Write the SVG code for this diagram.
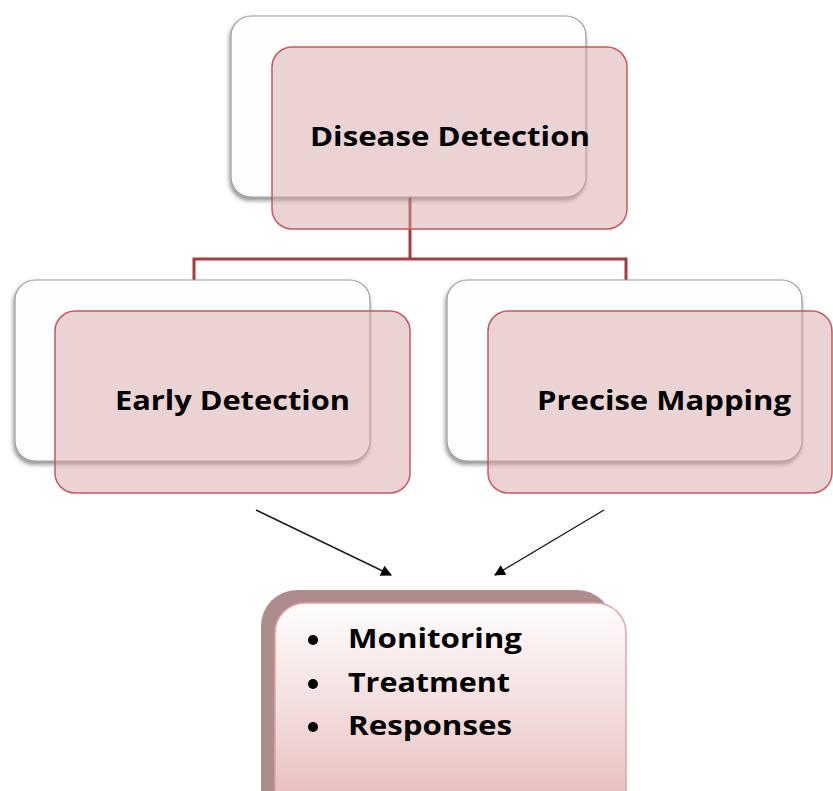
<svg xmlns="http://www.w3.org/2000/svg" width="833" height="791" viewBox="0 0 833 791">
<style>
.back{fill:#fefefe;stroke:#9a9a9a;stroke-width:1.2;filter:url(#sh)}
.front{fill:#d8a8a8;fill-opacity:0.5;stroke:#c45a5a;stroke-width:1.5}
.lbl{font-family:"Open Sans","DejaVu Sans",sans-serif;font-weight:bold;font-size:26px;fill:#000}
.conn{fill:none;stroke:#a33c3c;stroke-width:3}
.arr{stroke:#1a1a1a;stroke-width:1.4;fill:none;marker-end:url(#ah)}
</style>
<defs>
<filter id="sh" x="-10%" y="-10%" width="120%" height="120%">
<feDropShadow dx="-1" dy="3" stdDeviation="2" flood-color="#000" flood-opacity="0.45"/>
</filter>
<marker id="ah" viewBox="0 0 10 10" refX="9" refY="5" markerWidth="12" markerHeight="11" markerUnits="userSpaceOnUse" orient="auto">
<path d="M0,0 L10,5 L0,10 Z" fill="#000"/>
</marker>
<linearGradient id="g" x1="0" y1="0" x2="0" y2="1">
<stop offset="0" stop-color="#fefdfd"/>
<stop offset="0.45" stop-color="#f3dede"/>
<stop offset="1" stop-color="#e5b3b3"/>
</linearGradient>
</defs>
<rect width="833" height="791" fill="#fff"/>
<g id="connectors">
<path class="conn" d="M410,197 V259 M194,281 V259 H626 V281"/>
<line class="arr" x1="256" y1="510" x2="391" y2="575"/>
<line class="arr" x1="604" y1="510" x2="495" y2="575"/>
</g>
<g id="disease-detection">
<rect class="back" x="231" y="16" width="355" height="181" rx="20"/>
<rect class="front" x="272" y="47" width="355" height="182" rx="20"/>
<text class="lbl" x="310" y="146" textLength="280" lengthAdjust="spacingAndGlyphs">Disease Detection</text>
</g>
<g id="early-detection">
<rect class="back" x="15" y="280" width="355" height="181" rx="20"/>
<rect class="front" x="55" y="311" width="355" height="182" rx="20"/>
<text class="lbl" x="115" y="410" textLength="235" lengthAdjust="spacingAndGlyphs">Early Detection</text>
</g>
<g id="precise-mapping">
<rect class="back" x="447" y="280" width="355" height="181" rx="20"/>
<rect class="front" x="488" y="311" width="344" height="182" rx="20"/>
<text class="lbl" x="537" y="410" textLength="254" lengthAdjust="spacingAndGlyphs">Precise Mapping</text>
</g>
<g id="outcomes">
<rect x="261" y="590" width="352" height="240" rx="36" fill="#ae8c8e"/>
<rect x="275" y="603" width="351" height="230" rx="30" fill="url(#g)" stroke="#e2a4a4" stroke-width="1.5"/>
<circle cx="313" cy="640" r="5" fill="#000"/>
<circle cx="313" cy="684" r="5" fill="#000"/>
<circle cx="313" cy="727" r="5" fill="#000"/>
<text class="lbl" x="348" y="648" textLength="174" lengthAdjust="spacingAndGlyphs">Monitoring</text>
<text class="lbl" x="348" y="692" textLength="162" lengthAdjust="spacingAndGlyphs">Treatment</text>
<text class="lbl" x="348" y="735" textLength="164" lengthAdjust="spacingAndGlyphs">Responses</text>
</g>
</svg>
